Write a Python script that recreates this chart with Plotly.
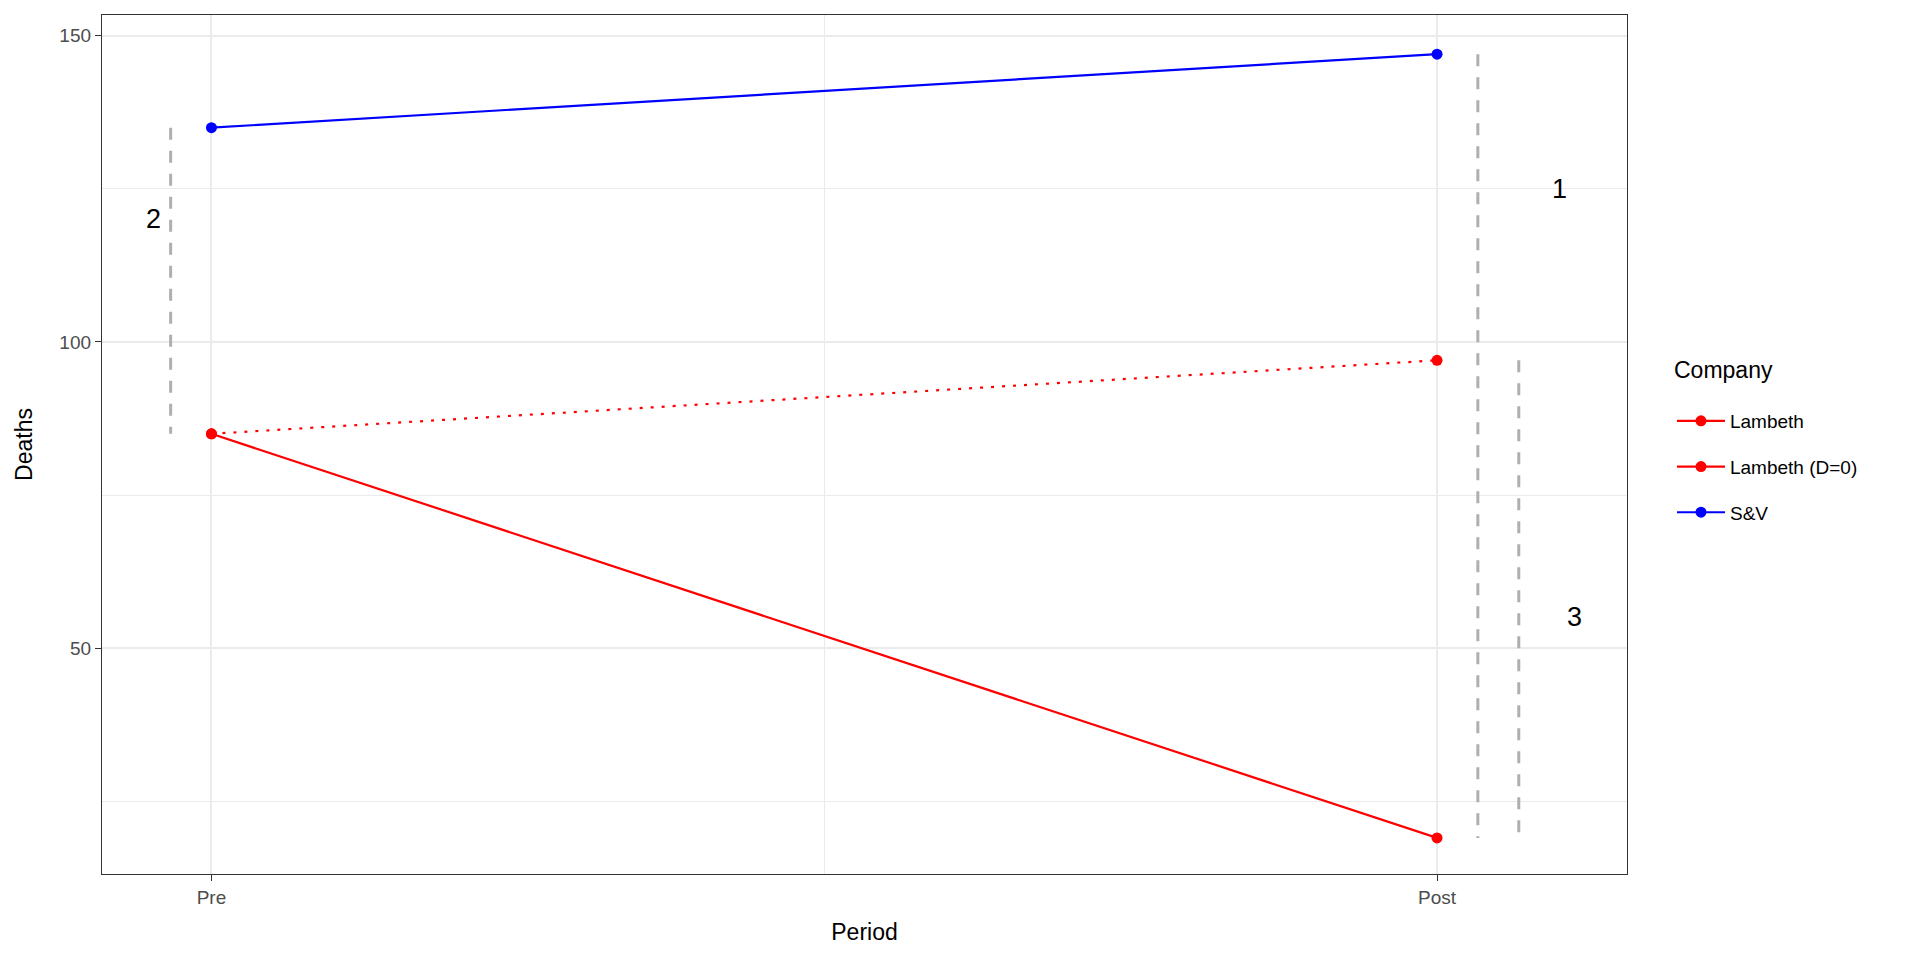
import plotly.graph_objects as go

# ---- data ----
periods = ["Pre", "Post"]
period_pos = [1, 2]
lambeth = [85, 19]
lambeth_d0 = [85, 97]
sv = [135, 147]

seg_x = [0.9667, 2.0333, 2.0667]
seg_y0 = [85, 19, 19]
seg_y1 = [135, 147, 97]

label_text = ["1", "2", "3"]
label_x = [2.10, 0.953, 2.112]
label_y = [125, 120, 55]

legend_title = "Company"

RED = "#FF0000"
BLUE = "#0000FF"
GREY = "#AFAFAF"
FONT = "Liberation Sans, Arial, Helvetica, sans-serif"

fig = go.Figure()

# dashed grey segments
for x, y0, y1 in zip(seg_x, seg_y0, seg_y1):
    fig.add_trace(go.Scatter(
        x=[x, x], y=[y1, y0], mode="lines",
        line=dict(color=GREY, width=3, dash="12px,11px"),
        showlegend=False, hoverinfo="skip"))

# Lambeth (D=0) dotted counterfactual
fig.add_trace(go.Scatter(
    x=period_pos, y=lambeth_d0, mode="lines+markers",
    line=dict(color=RED, width=2.2, dash="3px,8px"),
    marker=dict(color=RED, size=11),
    showlegend=False))

fig.add_trace(go.Scatter(
    x=period_pos, y=lambeth, mode="lines+markers", name="Lambeth",
    line=dict(color=RED, width=2.2), marker=dict(color=RED, size=11),
    legendgroup="a"))
fig.add_trace(go.Scatter(
    x=[None], y=[None], mode="lines+markers", name="Lambeth (D=0)",
    line=dict(color=RED, width=2.2), marker=dict(color=RED, size=11),
    legendgroup="b"))
fig.add_trace(go.Scatter(
    x=period_pos, y=sv, mode="lines+markers", name="S&V",
    line=dict(color=BLUE, width=2.2), marker=dict(color=BLUE, size=11),
    legendgroup="c"))

for t, x, y in zip(label_text, label_x, label_y):
    fig.add_annotation(x=x, y=y, text=t, showarrow=False,
                       font=dict(family=FONT, size=27, color="black"),
                       xanchor="center", yanchor="middle")

# legend title as annotation (paper coords)
fig.add_annotation(x=1.0295, y=0.587, xref="paper", yref="paper",
                   text=legend_title, showarrow=False,
                   xanchor="left", yanchor="middle",
                   font=dict(family=FONT, size=23, color="black"))

fig.update_layout(
    width=1920, height=960,
    paper_bgcolor="white", plot_bgcolor="white",
    margin=dict(l=94, r=301, t=7, b=94),
    font=dict(family=FONT, color="black"),
    legend=dict(
        x=1.0295, xanchor="left", y=0.5495, yanchor="top",
        font=dict(size=19, color="black"),
        itemwidth=48,
        tracegroupgap=18,
        bgcolor="rgba(0,0,0,0)",
    ),
)

fig.update_xaxes(
    range=[0.9107, 2.155],
    tickvals=period_pos, ticktext=periods,
    showline=True, mirror=True, linecolor="#333333", linewidth=1.3,
    ticks="outside", ticklen=6, tickwidth=1.3, tickcolor="#333333",
    tickfont=dict(size=19, color="#4D4D4D"),
    showgrid=True, gridcolor="#EBEBEB", gridwidth=2,
    minor=dict(tickvals=[1.5], showgrid=True, gridcolor="#EBEBEB", gridwidth=1, ticks=""),
    zeroline=False,
    title=dict(text="Period", font=dict(size=23, color="black"), standoff=16),
)
fig.update_yaxes(
    range=[13.1, 153.4],
    tickvals=[50, 100, 150],
    showline=True, mirror=True, linecolor="#333333", linewidth=1.3,
    ticks="outside", ticklen=6, tickwidth=1.3, tickcolor="#333333",
    tickfont=dict(size=19, color="#4D4D4D"),
    showgrid=True, gridcolor="#EBEBEB", gridwidth=2,
    minor=dict(tickvals=[25, 75, 125], showgrid=True, gridcolor="#EBEBEB", gridwidth=1, ticks=""),
    zeroline=False,
    title=dict(text="Deaths", font=dict(size=23, color="black"), standoff=20),
)

fig.write_html("out.html")
